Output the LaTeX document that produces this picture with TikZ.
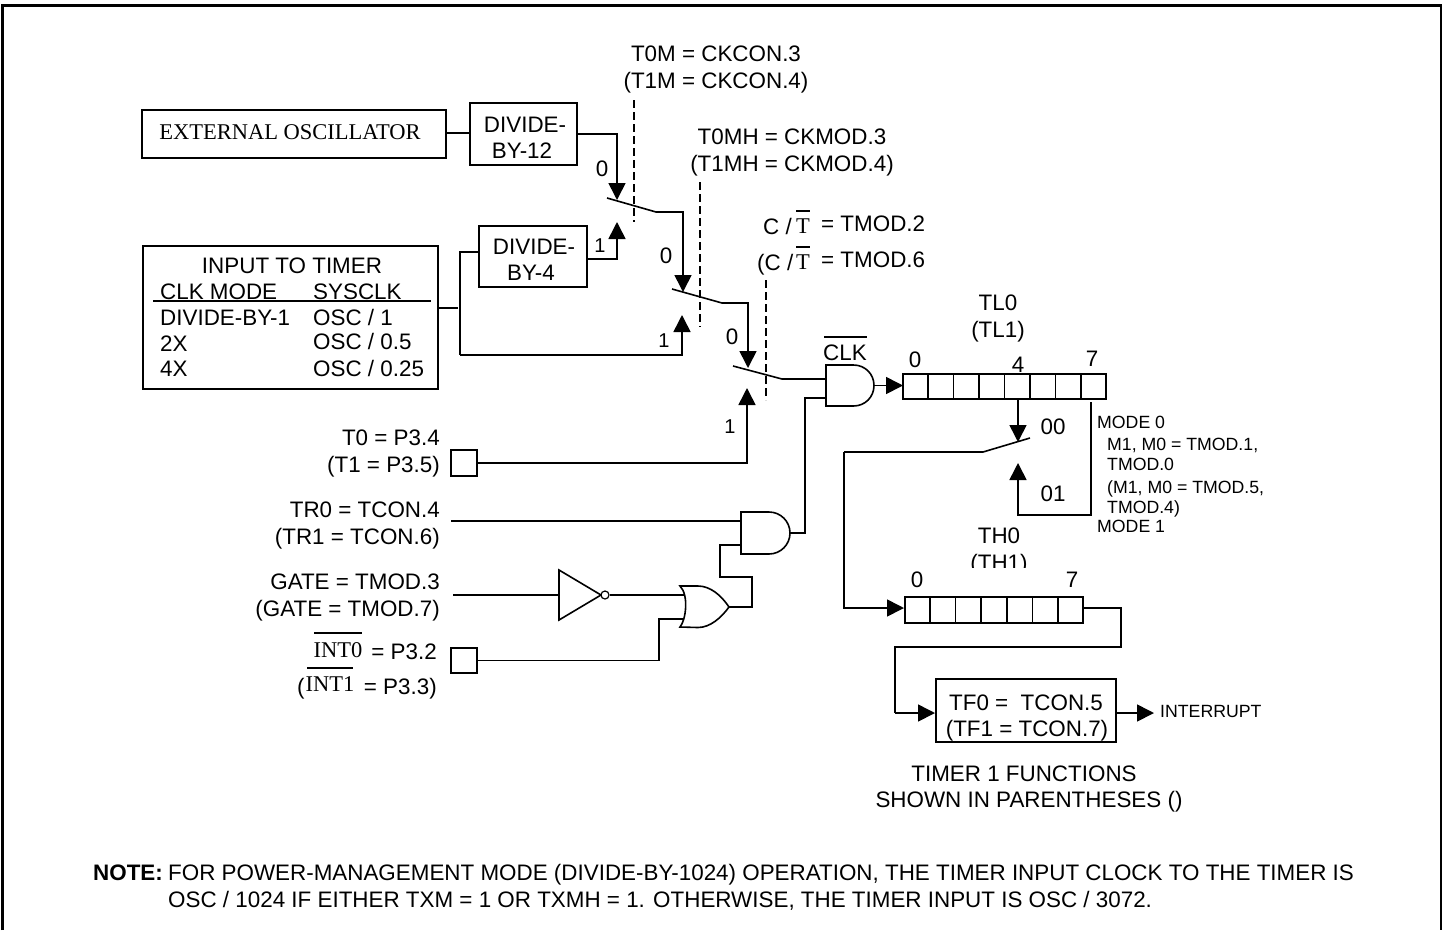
\documentclass[tikz,border=0pt]{standalone}
\usepackage{fontspec}
\setmainfont{Liberation Sans}
\newfontfamily\tnr{Liberation Serif}
\usetikzlibrary{arrows.meta,calc}
\tikzset{
  wire/.style={line width=1.6pt,line join=miter},
  sig/.style={wire,-{Triangle[length=17pt,width=17pt]}},
  gate/.style={line width=1.6pt,fill=white},
  dsh/.style={line width=1.4pt,dash pattern=on 8pt off 4pt},
  boxn/.style={draw,line width=1.6pt,rectangle,inner sep=0pt,fill=white},
  lbl/.style={inner sep=0pt,font=\fontsize{22.4}{26}\selectfont,text height=16pt,text depth=0pt},
  lleft/.style={lbl,anchor=west},
  lright/.style={lbl,anchor=east},
  small/.style={inner sep=0pt,anchor=west,font=\fontsize{17.7}{20}\selectfont,text height=12.7pt,text depth=0pt},
  serif/.style={inner sep=0pt,font=\tnr\fontsize{22.5}{26}\selectfont,text height=14.8pt,text depth=0pt},
  note/.style={inner sep=0pt,anchor=west,font=\fontsize{22.4}{26}\selectfont,text height=16pt,text depth=0pt},
  bar/.style={line width=1.1pt},
}
\begin{document}
\begin{tikzpicture}[x=1pt,y=-1pt]
\useasboundingbox (0,0) rectangle (1445,930);
% frame
\coordinate (fa) at (2.5,930); \coordinate (fb) at (2.5,5.5); \coordinate (fc) at (1441,5.5); \coordinate (fd) at (1441,930);
\draw[line width=2.6pt,line join=miter] (fa) -- (fb) -- (fc) -- (fd);

% boxes
\node[boxn,minimum width=304pt,minimum height=48pt] (osc) at (294,134) {};
\node[serif] (osct) at (290,132) {EXTERNAL OSCILLATOR};
\node[boxn,minimum width=107pt,minimum height=62pt] (d12) at (523.5,134) {};
\node[lbl] (d12a) at (525,124) {DIVIDE-};
\node[lbl] (d12b) at (522,150) {BY-12};
\node[boxn,minimum width=108pt,minimum height=61pt] (d4) at (533,256.5) {};
\node[lbl] (d4a) at (534,246) {DIVIDE-};
\node[lbl] (d4b) at (531,272) {BY-4};
\node[boxn,minimum width=295pt,minimum height=143pt] (inp) at (290.5,317.5) {};
\node[lbl] (inp0) at (292,265) {INPUT TO TIMER};
\node[lleft] (c1) at (160,291) {CLK MODE};
\node[lleft] (s1) at (313,291) {SYSCLK};
\coordinate (rl) at (153,301); \coordinate (rr) at (431,301);
\draw[wire] (rl) -- (rr);
\node[lleft] (c2) at (160,317) {DIVIDE-BY-1};
\node[lleft] (s2) at (313,317) {OSC / 1};
\node[lleft] (c3) at (160,343) {2X};
\node[lleft] (s3) at (313,341) {OSC / 0.5};
\node[lleft] (c4) at (160,368) {4X};
\node[lleft] (s4) at (313,368) {OSC / 0.25};

% coordinates of the switches
\coordinate (t1a) at (617,200); \coordinate (t1b) at (617,222);
\coordinate (sw1l) at (607,198); \coordinate (sw1r) at (656,212);
\coordinate (t2a) at (683,292); \coordinate (t2b) at (682,315);
\coordinate (sw2l) at (672,289); \coordinate (sw2r) at (722,303);
\coordinate (t3a) at (748,368); \coordinate (t3b) at (747,388);
\coordinate (sw3l) at (733,366); \coordinate (sw3r) at (782,379);
\coordinate (d4out) at (587,259);
\coordinate (oscout) at (446,133); \coordinate (d12in) at (470,133);
\coordinate (inpout) at (438,308); \coordinate (inpbus) at (458,308);
\coordinate (bustop) at (460,252); \coordinate (busbot) at (460,355); \coordinate (d4in) at (478,252);

% connectors top left
\draw[wire] (oscout) -- (d12in);
\draw[sig] (d12.east) -| (t1a);
\draw[wire] (inpout) -- (inpbus);
\draw[wire] (d4in) -- (bustop) -- (busbot);
\draw[sig] (d4out) -| (t1b);
\draw[sig] (busbot) -| (t2b);
\draw[wire] (sw1l) -- (sw1r);
\draw[sig] (sw1r) -| (t2a);
\draw[wire] (sw2l) -- (sw2r);
\draw[sig] (sw2r) -| (t3a);
\draw[wire] (sw3l) -- (sw3r);

% dashed selectors
\coordinate (da1) at (634,100); \coordinate (db1) at (634,222);
\coordinate (da2) at (700,182); \coordinate (db2) at (700,327);
\coordinate (da3) at (766,280); \coordinate (db3) at (766,400);
\draw[dsh] (da1) -- (db1);
\draw[dsh] (da2) -- (db2);
\draw[dsh] (da3) -- (db3);

% switch labels
\node[lbl] (n0a) at (602,168) {0};
\node[lbl,font=\fontsize{20}{24}\selectfont] (n1a) at (600,244) {1};
\node[lbl] (n0b) at (666,255) {0};
\node[lbl,font=\fontsize{20}{24}\selectfont] (n1b) at (664,339) {1};
\node[lbl] (n0c) at (732,336) {0};
\node[lbl,font=\fontsize{20}{24}\selectfont] (n1c) at (730,425) {1};

\node[lbl] (m1) at (716,53) {T0M = CKCON.3};
\node[lbl] (m2) at (716,80) {(T1M = CKCON.4)};
\node[lbl] (h1) at (792,136) {T0MH = CKMOD.3};
\node[lbl] (h2) at (792,163) {(T1MH = CKMOD.4)};

\node[lleft] (ct1) at (763,226) {C /};
\node[serif] (ct1t) at (803,226) {T};
\coordinate (ob1a) at (796,211); \coordinate (ob1b) at (810,211);
\draw[bar] (ob1a) -- (ob1b);
\node[lleft] (ct1r) at (821,223) {= TMOD.2};
\node[lleft] (ct2) at (757,262) {(C /};
\node[serif] (ct2t) at (803,262) {T};
\coordinate (ob2a) at (796,247); \coordinate (ob2b) at (810,247);
\draw[bar] (ob2a) -- (ob2b);
\node[lleft] (ct2r) at (821,259) {= TMOD.6};

% CLK label
\node[lbl] (clk) at (845,352) {CLK};
\coordinate (ob3a) at (824,337); \coordinate (ob3b) at (867,337);
\draw[bar] (ob3a) -- (ob3b);

% left labels
\node[lright] (l1) at (440,437) {T0 = P3.4};
\node[lright] (l2) at (440,464) {(T1 = P3.5)};
\node[lright] (l3) at (440,509) {TR0 = TCON.4};
\node[lright] (l4) at (440,536) {(TR1 = TCON.6)};
\node[lright] (l5) at (440,581) {GATE = TMOD.3};
\node[lright] (l6) at (440,608) {(GATE = TMOD.7)};
\node[serif] (i0) at (338,650) {INT0};
\coordinate (ob4a) at (314,633); \coordinate (ob4b) at (362,633);
\draw[bar] (ob4a) -- (ob4b);
\node[lright] (l7) at (437,651) {= P3.2};
\node[lleft] (l8p) at (297,686) {(};
\node[serif] (i1) at (330,684) {INT1};
\coordinate (ob5a) at (307,668); \coordinate (ob5b) at (353,668);
\draw[bar] (ob5a) -- (ob5b);
\node[lright] (l8) at (437,686) {= P3.3)};

% pads
\node[boxn,minimum size=26pt] (p1) at (464,463) {};
\node[boxn,minimum size=25.5pt] (p2) at (464,660.5) {};
\draw[sig] (p1.east) -| (t3b);

% AND 1
\coordinate (a1nw) at (826,365); \coordinate (a1ne) at (853.5,365);
\coordinate (a1e) at (874,385.5); \coordinate (a1se) at (853.5,406); \coordinate (a1sw) at (826,406);
\coordinate (a1i1) at (826,379); \coordinate (a1i2) at (826,398);
\draw[sig] (a1e) -- (903,385.5) coordinate (tlin);
\draw[gate] (a1nw) -- (a1ne) .. controls (865,365) and (874,374) .. (a1e)
  .. controls (874,397) and (865,406) .. (a1se) -- (a1sw) -- cycle;
\draw[wire] (sw3r) -- (a1i1);

% AND 2
\coordinate (a2nw) at (741,512); \coordinate (a2ne) at (769,512);
\coordinate (a2e) at (790,533); \coordinate (a2se) at (769,554); \coordinate (a2sw) at (741,554);
\coordinate (a2i1) at (741,521); \coordinate (a2i2) at (741,545);
\coordinate (tr0s) at (451,521);
\draw[wire] (tr0s) -- (a2i1);
\coordinate (a2o) at (805,533);
\draw[wire] (a2e) -- (a2o) |- (a1i2);
\draw[gate] (a2nw) -- (a2ne) .. controls (780.6,512) and (790,521.4) .. (a2e)
  .. controls (790,544.6) and (780.6,554) .. (a2se) -- (a2sw) -- cycle;

% inverter
\coordinate (gates) at (453,595);
\coordinate (ia) at (559,570); \coordinate (ib) at (559,620); \coordinate (ic) at (601,595);
\draw[wire] (gates) -- (559,595);
\draw[gate] (ia) -- (ic) -- (ib) -- cycle;
\node[draw,circle,line width=1.2pt,minimum size=8pt,inner sep=0pt,fill=white] (bub) at (605,595) {};

% OR
\coordinate (ont) at (680,586); \coordinate (onb) at (680,627); \coordinate (otip) at (729,607);
\coordinate (oi1) at (685,595); \coordinate (oi2) at (684,619);
\draw[wire] (bub.east) -- (oi1);
\coordinate (oj) at (659,619);
\draw[wire] (p2.east) -| (oj) -- (oi2);
\coordinate (ow1) at (752,607); \coordinate (ow2) at (752,577); \coordinate (ow3) at (720,577);
\draw[wire] (otip) -- (ow1) -- (ow2) -- (ow3) |- (a2i2);
\draw[gate] (ont) -- (698,586) .. controls (710,586) and (721,595) .. (otip)
  .. controls (721,618) and (710,627.5) .. (698,627.5) -- (onb)
  .. controls (686,620) and (689,595) .. (ont) -- cycle;

% register TL
\node[boxn,minimum width=203pt,minimum height=25pt] (tl) at (1004.5,386.5) {};
\foreach \i in {1,...,7} \draw[wire] ($(tl.north west)!\i/8!(tl.north east)$) -- ($(tl.south west)!\i/8!(tl.south east)$);
\node[lbl] (tl0) at (998,302) {TL0};
\node[lbl] (tl1) at (998,329) {(TL1)};
\node[lbl] (r0) at (915,359) {0};
\node[lbl] (r4) at (1018,364) {4};
\node[lbl] (r7) at (1092,358) {7};

% mode switch
\coordinate (b4) at (1018,399); \coordinate (t4a) at (1018,442);
\coordinate (swmr) at (1030,438); \coordinate (swml) at (983,452);
\coordinate (swd) at (844,452); \coordinate (thin) at (904,608);
\coordinate (t4b) at (1018,463); \coordinate (mb1) at (1018,515); \coordinate (mb2) at (1091,515); \coordinate (b7) at (1091,402);
\draw[sig] (b4) -- (t4a);
\draw[wire] (swmr) -- (swml) -- (swd);
\draw[sig] (b7) -- (mb2) -- (mb1) -- (t4b);
\node[lbl] (m00) at (1053,426) {00};
\node[lbl] (m01) at (1053,493) {01};
\node[small] (md0) at (1097,422) {MODE 0};
\node[small] (md1) at (1107,444) {M1, M0 = TMOD.1,};
\node[small] (md2) at (1107,464) {TMOD.0};
\node[small] (md3) at (1107,487) {(M1, M0 = TMOD.5,};
\node[small] (md4) at (1107,507) {TMOD.4)};
\node[small] (md5) at (1097,526) {MODE 1};

% register TH
\begin{scope}
\clip (940,520) rectangle (1060,567.5);
\node[lbl] (th0) at (999,535) {TH0};
\node[lbl] (th1) at (999,562) {(TH1)};
\end{scope}
\node[lbl] (q0) at (917,579) {0};
\node[lbl] (q7) at (1072,579) {7};
\node[boxn,minimum width=178pt,minimum height=26pt] (th) at (994,610) {};
\foreach \i in {1,...,6} \draw[wire] ($(th.north west)!\i/7!(th.north east)$) -- ($(th.south west)!\i/7!(th.south east)$);
\coordinate (swd2) at (844,608);
\draw[sig] (swd) -- (swd2) -- (thin);
\coordinate (tho) at (1083,608); \coordinate (th2) at (1121,608); \coordinate (th3) at (1121,647); \coordinate (th4) at (895,647); \coordinate (th5) at (895,713);
\coordinate (tfin) at (935,713); \coordinate (tfo) at (1116,713); \coordinate (intt) at (1154,713);
\draw[wire] (tho) -- (th2) -- (th3) -- (th4) -- (th5);
\draw[sig] (th5) -- (tfin);
\node[boxn,minimum width=180pt,minimum height=63pt] (tf) at (1026,710.5) {};
\draw[sig] (tfo) -- (intt);
\node[lbl] (tf0) at (1026,702) {TF0 =\ \ TCON.5};
\node[lbl] (tf1) at (1027,728) {(TF1 = TCON.7)};
\node[small] (intr) at (1160,711) {INTERRUPT};
\node[lbl] (ft1) at (1024,773) {TIMER 1 FUNCTIONS};
\node[lbl] (ft2) at (1029,799) {SHOWN IN PARENTHESES ()};

% note
\node[note,font=\bfseries\fontsize{22.4}{26}\selectfont] (nb) at (93,872) {NOTE:};
\node[note] (n1) at (168,872) {FOR POWER-MANAGEMENT MODE (DIVIDE-BY-1024) OPERATION, THE TIMER INPUT CLOCK TO THE TIMER IS};
\node[note] (n2) at (168,899) {OSC / 1024 IF EITHER TXM = 1 OR TXMH = 1. OTHERWISE, THE TIMER INPUT IS OSC / 3072.};
\end{tikzpicture}
\end{document}
